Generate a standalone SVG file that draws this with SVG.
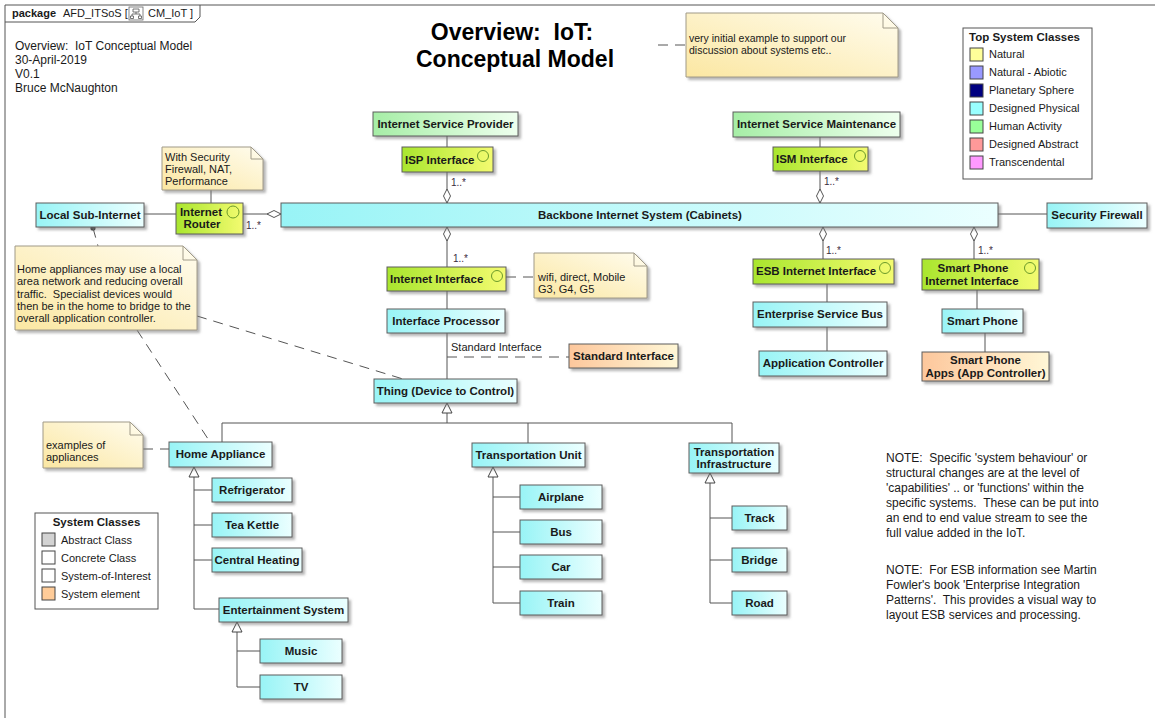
<svg xmlns="http://www.w3.org/2000/svg" width="1155" height="718" viewBox="0 0 1155 718" xml:space="preserve">
<defs>
<linearGradient id="gc" x1="0" x2="1" y1="0" y2="0"><stop offset="0" stop-color="#98f4f6"/><stop offset="1" stop-color="#ebffff"/></linearGradient>
<linearGradient id="gg" x1="0" x2="1" y1="0" y2="0"><stop offset="0" stop-color="#a6eea6"/><stop offset="1" stop-color="#eeffee"/></linearGradient>
<linearGradient id="gl" x1="0" x2="1" y1="0" y2="0"><stop offset="0" stop-color="#a9e62e"/><stop offset="1" stop-color="#f3fb70"/></linearGradient>
<linearGradient id="go" x1="0" x2="1" y1="0" y2="0"><stop offset="0" stop-color="#fdc79c"/><stop offset="1" stop-color="#fff7d6"/></linearGradient>
<linearGradient id="gn" x1="0" x2="1" y1="1" y2="0"><stop offset="0" stop-color="#fbe7a2"/><stop offset="1" stop-color="#fffcee"/></linearGradient>
<filter id="sh" x="-5%" y="-10%" width="115%" height="140%"><feDropShadow dx="2.5" dy="2.5" stdDeviation="1" flood-color="#777" flood-opacity="0.55"/></filter>
<marker id="dia" viewBox="0 0 14 8" refX="14" refY="4" markerWidth="14" markerHeight="8" orient="auto" markerUnits="userSpaceOnUse"><path d="M0,4 L7,0.5 L14,4 L7,7.5 Z" fill="#fff" stroke="#555" stroke-width="1"/></marker>
<marker id="gen" viewBox="0 0 12 12" refX="11" refY="6" markerWidth="12" markerHeight="12" orient="auto" markerUnits="userSpaceOnUse"><path d="M1,1 L11,6 L1,11 Z" fill="#fff" stroke="#444" stroke-width="1"/></marker>
<style>
.box{stroke:#5c5c5c;stroke-width:1;filter:url(#sh)}
.c{fill:url(#gc)}.g{fill:url(#gg)}.l{fill:url(#gl)}.o{fill:url(#go)}
.note{fill:url(#gn);stroke:#a09a88;stroke-width:1;filter:url(#sh)}
.fold{fill:none;stroke:#a09a88;stroke-width:1}
text{white-space:pre}
.b{font-family:"Liberation Sans",Arial,sans-serif;font-weight:bold;font-size:11.5px;fill:#1a1a1a}
.m{text-anchor:middle}
.r{font-family:"Liberation Sans",Arial,sans-serif;font-size:11px;fill:#1a1a1a}
.s{font-family:"Liberation Sans",Arial,sans-serif;font-size:10.5px;fill:#1a1a1a}
.h{font-family:"Liberation Sans",Arial,sans-serif;font-size:12px;fill:#1a1a1a}
.t{font-family:"Liberation Sans",Arial,sans-serif;font-weight:bold;font-size:23px;fill:#000;text-anchor:middle}
.mult{font-family:"Liberation Sans",Arial,sans-serif;font-size:10px;fill:#3a2a40}
.ln{stroke:#555;stroke-width:1;fill:none}
.ds{stroke:#555;stroke-width:1;fill:none;stroke-dasharray:10,7}
.ic{fill:none;stroke:#6b9a2a;stroke-width:1}
.sw{stroke:#444;stroke-width:1}
</style>
</defs>
<rect width="1155" height="718" fill="#fff"/>
<g id="frame">
<path d="M5,718 V5 H1155" class="ln" stroke="#444"/>
<path d="M5,22 H195 L200,17 V5" class="ln" stroke="#444"/>
<text x="12" y="17" class="r" font-weight="bold">package</text>
<text x="63" y="17" class="r">AFD_ITSoS [</text>
<rect x="129" y="7" width="14" height="13" fill="#fff" stroke="#666" stroke-width="0.8"/>
<path d="M133,9 h6 v3 h-6 z M136,12 v2 M132,14 h8 M132,14 v2 M140,14 v2 M130.5,16 h3 v2.5 h-3 z M138.5,16 h3 v2.5 h-3 z" fill="none" stroke="#555" stroke-width="0.8"/>
<text x="148" y="17" class="r">CM_IoT ]</text>
</g>
<g id="header-info">
<text x="15" y="50" class="h">Overview:  IoT Conceptual Model</text>
<text x="15" y="64" class="h">30-April-2019</text>
<text x="15" y="78" class="h">V0.1</text>
<text x="15" y="92" class="h">Bruce McNaughton</text>
</g>
<g id="title">
<text x="512" y="40" class="t">Overview:  IoT:</text>
<text x="515" y="67" class="t">Conceptual Model</text>
</g>
<g id="connectors">
<line x1="658" y1="45" x2="686" y2="45" class="ds"/>
<line x1="447" y1="136" x2="447" y2="147" class="ln"/>
<line x1="447" y1="172" x2="447" y2="203" class="ln" marker-end="url(#dia)"/>
<line x1="820" y1="137" x2="820" y2="147" class="ln"/>
<line x1="820" y1="171" x2="820" y2="203" class="ln" marker-end="url(#dia)"/>
<line x1="144" y1="214" x2="176" y2="214" class="ln"/>
<line x1="243" y1="214" x2="281" y2="214" class="ln" marker-end="url(#dia)"/>
<line x1="211" y1="190" x2="211" y2="203" class="ln"/>
<line x1="998" y1="214" x2="1047" y2="214" class="ln"/>
<line x1="447" y1="267" x2="447" y2="227" class="ln" marker-end="url(#dia)"/>
<line x1="823" y1="259" x2="823" y2="227" class="ln" marker-end="url(#dia)"/>
<line x1="974" y1="259" x2="974" y2="227" class="ln" marker-end="url(#dia)"/>
<line x1="827" y1="284" x2="827" y2="302" class="ln"/>
<line x1="827" y1="327" x2="827" y2="351" class="ln"/>
<line x1="977" y1="290" x2="977" y2="309" class="ln"/>
<line x1="985" y1="333" x2="985" y2="352" class="ln"/>
<line x1="447" y1="291" x2="447" y2="309" class="ln"/>
<line x1="447" y1="333" x2="447" y2="379" class="ln"/>
<line x1="447" y1="357" x2="569" y2="357" class="ds"/>
<line x1="506" y1="277" x2="534" y2="277" class="ds"/>
<circle cx="93" cy="228" r="2.6" fill="#333"/>
<line x1="93" y1="228" x2="98" y2="246" class="ds"/>
<line x1="197" y1="316" x2="403" y2="379" class="ds"/>
<line x1="137" y1="330" x2="210" y2="442" class="ds"/>
<line x1="143" y1="449" x2="169" y2="449" class="ds"/>
<path d="M447,423 V403" class="ln" marker-end="url(#gen)"/>
<path d="M222,442 V423 H732 V443 M528,423 V443" class="ln"/>
<path d="M194,609 V467" class="ln" marker-end="url(#gen)"/>
<path d="M194,490 H212 M194,525 H212 M194,560 H212 M194,609 H219" class="ln"/>
<path d="M237,687 V622" class="ln" marker-end="url(#gen)"/>
<path d="M237,651 H260 M237,687 H260" class="ln"/>
<path d="M493,603 V467" class="ln" marker-end="url(#gen)"/>
<path d="M493,497 H520 M493,532 H520 M493,567 H520 M493,603 H520" class="ln"/>
<path d="M710,603 V473" class="ln" marker-end="url(#gen)"/>
<path d="M710,518 H732 M710,560 H732 M710,603 H732" class="ln"/>
<text x="451" y="186" class="mult">1..*</text>
<text x="824" y="185" class="mult">1..*</text>
<text x="246" y="229" class="mult">1..*</text>
<text x="453" y="262" class="mult">1..*</text>
<text x="826" y="254" class="mult">1..*</text>
<text x="978" y="254" class="mult">1..*</text>
<text x="451" y="351" class="r">Standard Interface</text>
</g>
<g id="note-title"><path d="M686,13 H883 L898,28 V77 H686 Z" class="note"/><path d="M883,13 V28 H898" class="fold"/>
<text x="689" y="42" class="s">very initial example to support our</text><text x="689" y="54" class="s">discussion about systems etc..</text></g>
<g id="legend-top">
<rect x="963" y="28" width="129" height="151" fill="#fff" stroke="#555"/>
<text x="969" y="41" class="b">Top System Classes</text>
<rect x="970" y="48" width="13" height="13" fill="#ffff99" class="sw"/><text x="989" y="58" class="r">Natural</text>
<rect x="970" y="66" width="13" height="13" fill="#9999ff" class="sw"/><text x="989" y="76" class="r">Natural - Abiotic</text>
<rect x="970" y="84" width="13" height="13" fill="#000080" class="sw"/><text x="989" y="94" class="r">Planetary Sphere</text>
<rect x="970" y="102" width="13" height="13" fill="#99ffff" class="sw"/><text x="989" y="112" class="r">Designed Physical</text>
<rect x="970" y="120" width="13" height="13" fill="#99ff99" class="sw"/><text x="989" y="130" class="r">Human Activity</text>
<rect x="970" y="138" width="13" height="13" fill="#ff9999" class="sw"/><text x="989" y="148" class="r">Designed Abstract</text>
<rect x="970" y="156" width="13" height="13" fill="#ff99ff" class="sw"/><text x="989" y="166" class="r">Transcendental</text>
</g>
<g id="n-isp"><rect x="373" y="112" width="145" height="24" class="box g"/><text x="445.5" y="128" class="b m">Internet Service Provider</text></g>
<g id="n-isp-if"><rect x="402" y="147" width="91" height="25" class="box l"/><text x="405" y="164" class="b">ISP Interface</text><circle cx="483" cy="156" r="5.5" class="ic"/></g>
<g id="n-ism"><rect x="733" y="112" width="167" height="25" class="box g"/><text x="816.5" y="128" class="b m">Internet Service Maintenance</text></g>
<g id="n-ism-if"><rect x="773" y="147" width="95" height="24" class="box l"/><text x="776" y="163" class="b">ISM Interface</text><circle cx="860" cy="156" r="5.5" class="ic"/></g>
<g id="note-router"><path d="M162,147 H251 L263,159 V190 H162 Z" class="note"/><path d="M251,147 V159 H263" class="fold"/>
<text x="165" y="161" class="r">With Security</text><text x="165" y="173" class="r">Firewall, NAT,</text><text x="165" y="185" class="r">Performance</text></g>
<g id="n-local"><rect x="36" y="203" width="108" height="24" class="box c"/><text x="90" y="219" class="b m">Local Sub-Internet</text></g>
<g id="n-router"><rect x="176" y="203" width="67" height="31" class="box l"/><text x="201" y="216" class="b m">Internet</text><text x="202" y="228" class="b m">Router</text><circle cx="233" cy="212" r="6" class="ic"/></g>
<g id="n-backbone"><rect x="281" y="203" width="717" height="24" class="box c"/><text x="640" y="219" class="b m">Backbone Internet System (Cabinets)</text></g>
<g id="n-firewall"><rect x="1047" y="203" width="100" height="25" class="box c"/><text x="1097" y="219" class="b m">Security Firewall</text></g>
<g id="note-home"><path d="M15,246 H183 L197,260 V330 H15 Z" class="note"/><path d="M183,246 V260 H197" class="fold"/>
<text x="17" y="273" class="r">Home appliances may use a local</text>
<text x="17" y="285" class="r">area network and reducing overall</text>
<text x="17" y="298" class="r">traffic.  Specialist devices would</text>
<text x="17" y="310" class="r">then be in the home to bridge to the</text>
<text x="17" y="322" class="r">overall application controller.</text></g>
<g id="n-inet-if"><rect x="387" y="267" width="119" height="24" class="box l"/><text x="390" y="283" class="b">Internet Interface</text><circle cx="497" cy="276" r="5.5" class="ic"/></g>
<g id="note-wifi"><path d="M534,253 H634 L647,266 V298 H534 Z" class="note"/><path d="M634,253 V266 H647" class="fold"/>
<text x="538" y="281" class="r">wifi, direct, Mobile</text><text x="538" y="293" class="r">G3, G4, G5</text></g>
<g id="n-proc"><rect x="387" y="309" width="118" height="24" class="box c"/><text x="446" y="325" class="b m">Interface Processor</text></g>
<g id="n-std"><rect x="569" y="344" width="109" height="24" class="box o"/><text x="623.5" y="360" class="b m">Standard Interface</text></g>
<g id="n-thing"><rect x="374" y="379" width="143" height="24" class="box c"/><text x="445.5" y="395" class="b m">Thing (Device to Control)</text></g>
<g id="n-esb-if"><rect x="753" y="259" width="141" height="25" class="box l"/><text x="756" y="275" class="b">ESB Internet Interface</text><circle cx="885" cy="268" r="5.5" class="ic"/></g>
<g id="n-esb"><rect x="753" y="302" width="134" height="25" class="box c"/><text x="820" y="318" class="b m">Enterprise Service Bus</text></g>
<g id="n-app"><rect x="759" y="351" width="128" height="25" class="box c"/><text x="823" y="367" class="b m">Application Controller</text></g>
<g id="n-sp-if"><rect x="922" y="259" width="117" height="31" class="box l"/><text x="973" y="272" class="b m">Smart Phone</text><text x="972" y="285" class="b m">Internet Interface</text><circle cx="1030" cy="268" r="5.5" class="ic"/></g>
<g id="n-sp"><rect x="942" y="309" width="81" height="24" class="box c"/><text x="982.5" y="325" class="b m">Smart Phone</text></g>
<g id="n-spapps"><rect x="922" y="352" width="127" height="29" class="box o"/><text x="985.5" y="364" class="b m">Smart Phone</text><text x="985.5" y="377" class="b m">Apps (App Controller)</text></g>
<g id="note-examples"><path d="M43,422 H130 L143,435 V468 H43 Z" class="note"/><path d="M130,422 V435 H143" class="fold"/>
<text x="46" y="449" class="r">examples of</text><text x="46" y="461" class="r">appliances</text></g>
<g id="n-home"><rect x="169" y="442" width="103" height="25" class="box c"/><text x="220.5" y="458" class="b m">Home Appliance</text></g>
<g id="n-fridge"><rect x="212" y="478" width="80" height="24" class="box c"/><text x="252" y="494" class="b m">Refrigerator</text></g>
<g id="n-kettle"><rect x="212" y="513" width="80" height="24" class="box c"/><text x="252" y="529" class="b m">Tea Kettle</text></g>
<g id="n-heating"><rect x="212" y="548" width="90" height="24" class="box c"/><text x="257" y="564" class="b m">Central Heating</text></g>
<g id="n-ent"><rect x="219" y="598" width="129" height="24" class="box c"/><text x="283.5" y="614" class="b m">Entertainment System</text></g>
<g id="n-music"><rect x="260" y="639" width="82" height="24" class="box c"/><text x="301" y="655" class="b m">Music</text></g>
<g id="n-tv"><rect x="260" y="675" width="82" height="24" class="box c"/><text x="301" y="691" class="b m">TV</text></g>
<g id="legend-sys">
<rect x="35" y="513" width="123" height="96" fill="#fff" stroke="#555"/>
<text x="96.5" y="526" class="b m">System Classes</text>
<rect x="42" y="533" width="13" height="13" fill="#d3d3d3" class="sw"/><text x="61" y="544" class="r">Abstract Class</text>
<rect x="42" y="551" width="13" height="13" fill="#fff" class="sw"/><text x="61" y="562" class="r">Concrete Class</text>
<rect x="42" y="569" width="13" height="13" fill="#fff" class="sw"/><text x="61" y="580" class="r">System-of-Interest</text>
<rect x="42" y="587" width="13" height="13" fill="#ffcc99" class="sw"/><text x="61" y="598" class="r">System element</text>
</g>
<g id="n-tu"><rect x="472" y="443" width="113" height="24" class="box c"/><text x="528.5" y="459" class="b m">Transportation Unit</text></g>
<g id="n-air"><rect x="520" y="485" width="82" height="24" class="box c"/><text x="561" y="501" class="b m">Airplane</text></g>
<g id="n-bus"><rect x="520" y="520" width="82" height="24" class="box c"/><text x="561" y="536" class="b m">Bus</text></g>
<g id="n-car"><rect x="520" y="555" width="82" height="24" class="box c"/><text x="561" y="571" class="b m">Car</text></g>
<g id="n-train"><rect x="520" y="591" width="82" height="24" class="box c"/><text x="561" y="607" class="b m">Train</text></g>
<g id="n-ti"><rect x="689" y="443" width="90" height="30" class="box c"/><text x="734" y="456" class="b m">Transportation</text><text x="734" y="468" class="b m">Infrastructure</text></g>
<g id="n-track"><rect x="732" y="506" width="55" height="24" class="box c"/><text x="759.5" y="522" class="b m">Track</text></g>
<g id="n-bridge"><rect x="732" y="548" width="55" height="24" class="box c"/><text x="759.5" y="564" class="b m">Bridge</text></g>
<g id="n-road"><rect x="732" y="591" width="55" height="24" class="box c"/><text x="759.5" y="607" class="b m">Road</text></g>
<g id="notes-text">
<text x="886" y="462" class="h">NOTE:  Specific 'system behaviour' or</text>
<text x="886" y="477" class="h">structural changes are at the level of</text>
<text x="886" y="492" class="h">'capabilities' .. or 'functions' within the</text>
<text x="886" y="507" class="h">specific systems.  These can be put into</text>
<text x="886" y="522" class="h">an end to end value stream to see the</text>
<text x="886" y="537" class="h">full value added in the IoT.</text>
<text x="886" y="574" class="h">NOTE:  For ESB information see Martin</text>
<text x="886" y="589" class="h">Fowler's book 'Enterprise Integration</text>
<text x="886" y="604" class="h">Patterns'.  This provides a visual way to</text>
<text x="886" y="619" class="h">layout ESB services and processing.</text>
</g>
</svg>
